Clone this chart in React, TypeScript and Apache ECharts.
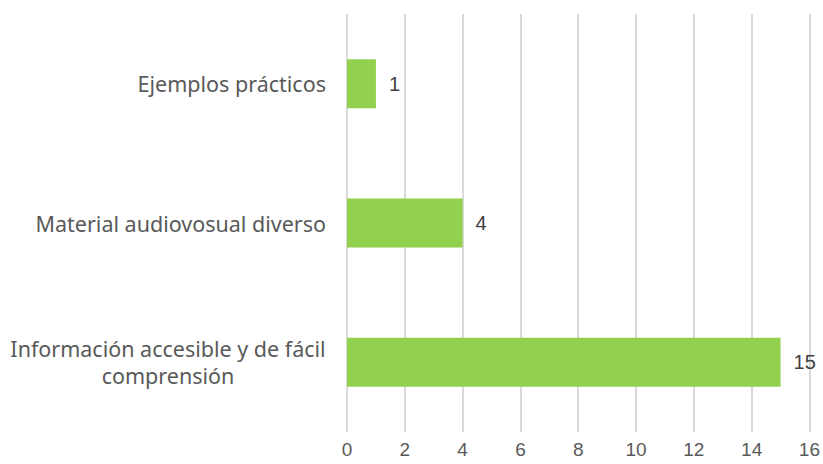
import React, { useEffect, useRef } from "react";
import * as echarts from "echarts";

const categories = [
  "Ejemplos prácticos",
  "Material audiovosual diverso",
  "Información accesible y de fácil\ncomprensión",
];
const values = [1, 4, 15];
const xTicks = { min: 0, max: 16, interval: 2 };

const CAT_FONT = '"Noto Sans", "Liberation Sans", Arial, sans-serif';
const CAT_SIZE = 21.5;
const NUM_FONT = '"Liberation Sans", Arial, sans-serif';

function measure(text: string, size: number, family: string): number {
  const c = document.createElement("canvas");
  const ctx = c.getContext("2d");
  if (!ctx) return text.length * size * 0.55;
  ctx.font = size + "px " + family;
  return Math.ceil(ctx.measureText(text).width);
}

export default function App() {
  const ref = useRef<HTMLDivElement>(null);
  useEffect(() => {
    if (!ref.current) return;
    const chart = echarts.init(ref.current, null, { renderer: "svg" });
    const multi = categories.find((c) => c.indexOf("\n") >= 0) || "";
    const boxW = Math.max(
      ...multi.split("\n").map((s) => measure(s, CAT_SIZE, CAT_FONT))
    );
    chart.setOption({
      animation: false,
      backgroundColor: "#ffffff",
      grid: { left: 347, right: 12, top: 14, bottom: 32, containLabel: false },
      xAxis: {
        type: "value",
        min: xTicks.min,
        max: xTicks.max,
        interval: xTicks.interval,
        axisLine: { show: false },
        axisTick: { show: false },
        splitLine: { show: true, lineStyle: { color: "#d9d9d9", width: 2 } },
        axisLabel: {
          color: "#595959",
          fontSize: 19,
          fontFamily: NUM_FONT,
          margin: 8,
        },
      },
      yAxis: {
        type: "category",
        data: categories,
        inverse: true,
        axisLine: { show: false },
        axisTick: { show: false },
        axisLabel: {
          color: "#595959",
          fontSize: CAT_SIZE,
          fontFamily: CAT_FONT,
          margin: 21,
          lineHeight: 27,
          formatter: (v: string) => {
            if (v.indexOf("\n") >= 0) {
              return v
                .split("\n")
                .map((s) => "{c|" + s + "}")
                .join("\n");
            }
            return v;
          },
          rich: {
            c: {
              width: boxW,
              align: "center",
              color: "#595959",
              fontSize: CAT_SIZE,
              lineHeight: 27,
              fontFamily: CAT_FONT,
            },
          },
        },
      },
      series: [
        {
          type: "bar",
          data: values,
          barWidth: 49,
          itemStyle: { color: "#92D050" },
          label: {
            show: true,
            position: "right",
            distance: 13,
            color: "#404040",
            fontSize: 20,
            fontFamily: NUM_FONT,
          },
        },
      ],
    });
    return () => chart.dispose();
  }, []);
  return (
    <div
      ref={ref}
      style={{ position: "absolute", left: 0, top: 0, width: 823, height: 464 }}
    />
  );
}
